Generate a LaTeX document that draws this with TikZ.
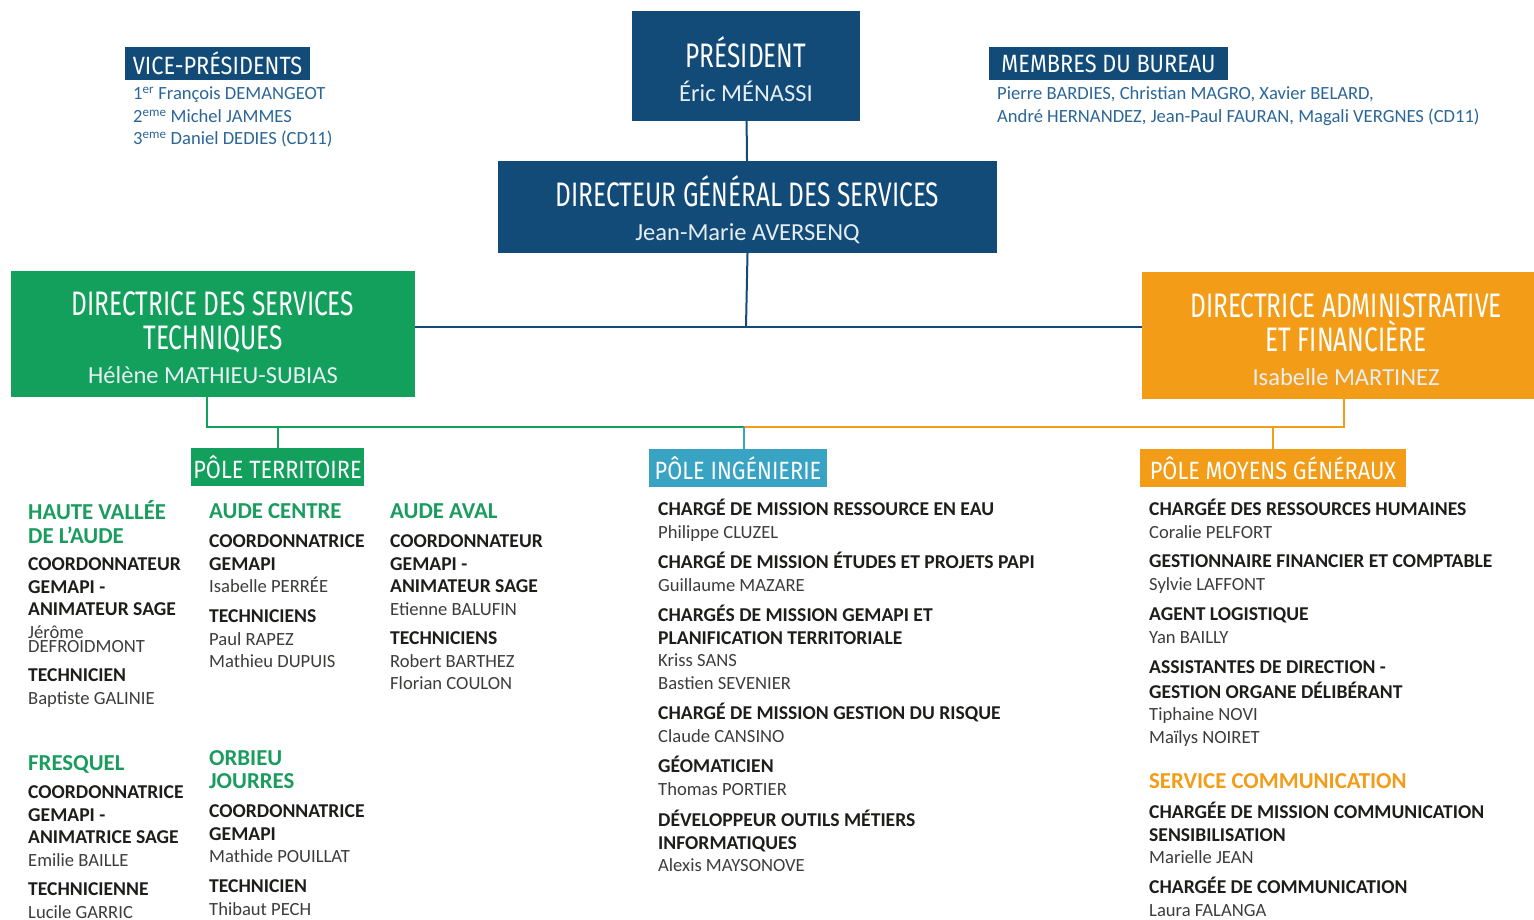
\documentclass[tikz,border=0pt]{standalone}
\usepackage{fontspec}
\setmainfont{Carlito}
\newfontfamily\titlefont[FakeStretch=0.72]{Fira Sans}
\newfontfamily\tagfont[FakeStretch=0.87]{Fira Sans}
\usetikzlibrary{positioning}
\definecolor{navy}{HTML}{124B78}
\definecolor{dstgreen}{HTML}{12A05C}
\definecolor{daforange}{HTML}{F39C18}
\definecolor{ingteal}{HTML}{38A3C3}
\definecolor{zonegreen}{HTML}{1A9C5E}
\definecolor{ink}{HTML}{1D1D1B}
\definecolor{namegrey}{HTML}{3C3C3B}
\definecolor{vpblue}{HTML}{2B6699}
\definecolor{nametint}{HTML}{E6EEF4}
\tikzstyle{bigbox}=[inner sep=0pt]
\tikzstyle{boxtext}=[inner sep=0pt,align=center,text=white,font=\fontsize{24.5}{34}\selectfont]
\tikzstyle{tag}=[inner sep=0pt,text=white,font=\tagfont\fontsize{25}{25}\selectfont]
\tikzstyle{staff}=[anchor=north west,inner sep=0pt,align=left,text=namegrey,font=\fontsize{18.6}{22.5}\selectfont]
\tikzstyle{zone}=[anchor=north west,inner sep=0pt,align=left,text=zonegreen,font=\fontsize{22.8}{22.5}\selectfont\bfseries]
\tikzstyle{link}=[line width=2pt]
\newcommand{\role}[1]{\textcolor{ink}{\fontsize{19.6}{22.5}\selectfont\bfseries #1}}
\newcommand{\boxtitle}[1]{{\titlefont\fontsize{34}{34}\selectfont #1}}
\newcommand{\boxname}[1]{\textcolor{nametint}{#1}}

\begin{document}
\begin{tikzpicture}[x=1pt,y=-1pt]
	\useasboundingbox (0,0) rectangle (1534,920);
	% top level
	\node[bigbox,fill=navy,minimum width=228pt,minimum height=110pt] (pres) at (746,66) {};
	\node[boxtext] (prestext) at ([yshift=-3.5pt]pres.center) {\boxtitle{PRÉSIDENT}\\\boxname{Éric MÉNASSI}};
	\node[bigbox,fill=navy,minimum width=499pt,minimum height=92pt] (dgs) at (747.5,207) {};
	\node[boxtext] (dgstext) at ([yshift=-3pt]dgs.center) {\boxtitle{DIRECTEUR GÉNÉRAL DES SERVICES}\\\boxname{Jean-Marie AVERSENQ}};
	\node[bigbox,fill=dstgreen,minimum width=404pt,minimum height=126pt] (dst) at (213,334) {};
	\node[boxtext] (dsttext) at ([yshift=-4pt]dst.center) {\boxtitle{DIRECTRICE DES SERVICES}\\\boxtitle{TECHNIQUES}\\\boxname{Hélène MATHIEU-SUBIAS}};
	\node[bigbox,fill=daforange,minimum width=408pt,minimum height=127pt] (daf) at (1346,335.5) {};
	\node[boxtext] (daftext) at ([yshift=-4pt]daf.center) {\boxtitle{DIRECTRICE ADMINISTRATIVE}\\\boxtitle{ET FINANCIÈRE}\\\boxname{Isabelle MARTINEZ}};
	% bureau
	\node[tag,fill=navy,minimum width=185pt,minimum height=33pt] (vp) at (217.5,63.5) {VICE-PRÉSIDENTS};
	\node[staff,text=vpblue] (vplist) at (133,84) {\strut 1\textsuperscript{er} François DEMANGEOT\\2\textsuperscript{eme} Michel JAMMES\\3\textsuperscript{eme} Daniel DEDIES (CD11)};
	\node[tag,fill=navy,minimum width=239pt,minimum height=33pt] (mb) at (1108.5,63.5) {MEMBRES DU BUREAU};
	\node[staff,text=vpblue] (mblist) at (997,84) {\strut Pierre BARDIES, Christian MAGRO, Xavier BELARD,\\André HERNANDEZ, Jean-Paul FAURAN, Magali VERGNES (CD11)};
	% poles
	\node[tag,fill=dstgreen,minimum width=173pt,minimum height=38pt] (pt) at (277.5,467) {PÔLE TERRITOIRE};
	\node[tag,fill=ingteal,minimum width=178pt,minimum height=38pt] (pi) at (738,468) {PÔLE INGÉNIERIE};
	\node[tag,fill=daforange,minimum width=266pt,minimum height=38pt] (pm) at (1273,468) {PÔLE MOYENS GÉNÉRAUX};
	% connectors
	\coordinate (navyhub) at (746,327);
	\coordinate (polehub) at (744,427);
	\draw[link,navy] (pres) -- (dgs);
	\draw[link,navy] (dgs.south) -- (navyhub);
	\draw[link,navy] (dst.east |- navyhub) -- (daf.west |- navyhub);
	\draw[link,dstgreen] ([xshift=-6pt]dst.south) |- (polehub);
	\draw[link,dstgreen] (pt.north) -- (pt.north |- polehub);
	\draw[link,daforange] ([xshift=-2pt]daf.south) |- (polehub);
	\draw[link,daforange] (pm.north) -- (pm.north |- polehub);
	\draw[link,ingteal] (polehub) -- (polehub |- pi.north);
	% pole territoire
	\node[zone] (hva) at (28,500) {\strut HAUTE VALLÉE\\DE L’AUDE};
	\node[staff] (hva1) at (28,555) {\role{\strut COORDONNATEUR}\\\role{GEMAPI -}\\\role{ANIMATEUR SAGE}\\Jérôme\\[-8.5pt]DEFROIDMONT};
	\node[staff] (hva2) at (28,666) {\role{\strut TECHNICIEN}\\Baptiste GALINIE};
	\node[zone] (fre) at (28,755) {\strut FRESQUEL};
	\node[staff] (fre1) at (28,783) {\role{\strut COORDONNATRICE}\\\role{GEMAPI -}\\\role{ANIMATRICE SAGE}\\Emilie BAILLE};
	\node[staff] (fre2) at (28,880) {\role{\strut TECHNICIENNE}\\Lucile GARRIC};
	\node[zone] (ac) at (209,503) {\strut AUDE CENTRE};
	\node[staff] (ac1) at (209,532) {\role{\strut COORDONNATRICE}\\\role{GEMAPI}\\Isabelle PERRÉE};
	\node[staff] (ac2) at (209,607) {\role{\strut TECHNICIENS}\\Paul RAPEZ\\Mathieu DUPUIS};
	\node[zone] (oj) at (209,750) {\strut ORBIEU\\JOURRES};
	\node[staff] (oj1) at (209,802) {\role{\strut COORDONNATRICE}\\\role{GEMAPI}\\Mathide POUILLAT};
	\node[staff] (oj2) at (209,877) {\role{\strut TECHNICIEN}\\Thibaut PECH};
	\node[zone] (aa) at (390,503) {\strut AUDE AVAL};
	\node[staff] (aa1) at (390,532) {\role{\strut COORDONNATEUR}\\\role{GEMAPI -}\\\role{ANIMATEUR SAGE}\\Etienne BALUFIN};
	\node[staff] (aa2) at (390,629) {\role{\strut TECHNICIENS}\\Robert BARTHEZ\\Florian COULON};
	% pole ingenierie
	\node[staff] (ing1) at (658,499) {\role{\strut CHARGÉ DE MISSION RESSOURCE EN EAU}\\Philippe CLUZEL};
	\node[staff] (ing2) at (658,552) {\role{\strut CHARGÉ DE MISSION ÉTUDES ET PROJETS PAPI}\\Guillaume MAZARE};
	\node[staff] (ing3) at (658,605) {\role{\strut CHARGÉS DE MISSION GEMAPI ET}\\\role{PLANIFICATION TERRITORIALE}\\Kriss SANS\\Bastien SEVENIER};
	\node[staff] (ing4) at (658,703) {\role{\strut CHARGÉ DE MISSION GESTION DU RISQUE}\\Claude CANSINO};
	\node[staff] (ing5) at (658,756) {\role{\strut GÉOMATICIEN}\\Thomas PORTIER};
	\node[staff] (ing6) at (658,810) {\role{\strut DÉVELOPPEUR OUTILS MÉTIERS}\\\role{INFORMATIQUES}\\Alexis MAYSONOVE};
	% pole moyens generaux
	\node[staff] (mg1) at (1149,499) {\role{\strut CHARGÉE DES RESSOURCES HUMAINES}\\Coralie PELFORT};
	\node[staff] (mg2) at (1149,552) {\role{\strut GESTIONNAIRE FINANCIER ET COMPTABLE}\\Sylvie LAFFONT};
	\node[staff] (mg3) at (1149,605) {\role{\strut AGENT LOGISTIQUE}\\Yan BAILLY};
	\node[staff] (mg4) at (1149,658) {\role{\strut ASSISTANTES DE DIRECTION -}\\\role{GESTION ORGANE DÉLIBÉRANT}\\Tiphaine NOVI\\Maïlys NOIRET};
	\node[zone,text=daforange] (com) at (1149,773) {\strut SERVICE COMMUNICATION};
	\node[staff] (com1) at (1149,802) {\role{\strut CHARGÉE DE MISSION COMMUNICATION}\\\role{SENSIBILISATION}\\Marielle JEAN};
	\node[staff] (com2) at (1149,877) {\role{\strut CHARGÉE DE COMMUNICATION}\\Laura FALANGA};
\end{tikzpicture}
\end{document}
